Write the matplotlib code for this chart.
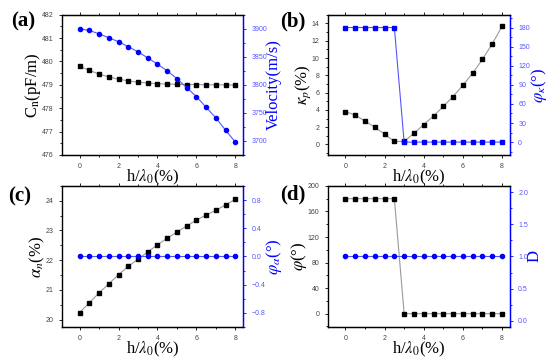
import matplotlib
matplotlib.use('Agg')
import matplotlib.pyplot as plt
from matplotlib.ticker import AutoMinorLocator, MultipleLocator

plt.rcParams['font.family'] = 'Liberation Sans'
plt.rcParams['mathtext.fontset'] = 'stix'

# x: h/lambda0 (%)
h = [0, 0.5, 1, 1.5, 2, 2.5, 3, 3.5, 4, 4.5, 5, 5.5, 6, 6.5, 7, 7.5, 8]

# (a)
cn = [479.79, 479.62, 479.46, 479.34, 479.24, 479.17, 479.11, 479.08, 479.05,
      479.03, 479.02, 479.01, 479.01, 479.0, 479.0, 479.0, 478.99]
velocity = [3900, 3897, 3891, 3884, 3877, 3868, 3859, 3848, 3837, 3825, 3811,
            3795, 3779, 3760, 3741, 3719, 3698]
# (b)
kappa_p = [3.8, 3.4, 2.7, 2.0, 1.2, 0.35, 0.35, 1.3, 2.3, 3.3, 4.4, 5.55, 6.85,
           8.25, 9.85, 11.65, 13.65]
phi_kappa = [180, 180, 180, 180, 180, 180, 0, 0, 0, 0, 0, 0, 0, 0, 0, 0, 0]
# (c)
alpha_n = [20.24, 20.57, 20.90, 21.21, 21.51, 21.80, 22.03, 22.28, 22.52, 22.74,
           22.95, 23.15, 23.35, 23.52, 23.68, 23.86, 24.05]
phi_alpha = [0] * 17
# (d)
phi = [180, 180, 180, 180, 180, 180, 0, 0, 0, 0, 0, 0, 0, 0, 0, 0, 0]
D = [1] * 17

BLUE = '#0000ff'
LBLUE = '#5555ff'
GRAY = '#9a9a9a'
SERIF = 'Liberation Serif'

fig = plt.figure(figsize=(5.5, 3.61), dpi=100)

boxes = [[0.113, 0.571, 0.329, 0.388],
         [0.596, 0.571, 0.331, 0.388],
         [0.113, 0.094, 0.329, 0.391],
         [0.596, 0.094, 0.331, 0.391]]


def make_panel(box, left, right, lm, rm, ylim, rlim, lstep, rstep,
               ylab, rlab, tag, tagpos):
    ax = fig.add_axes(box)
    ax2 = ax.twinx()
    ax.plot(h, left, color=GRAY, lw=0.8, marker=lm, ms=3, mfc='k', mec='k', zorder=3)
    ax2.plot(h, right, color=LBLUE, lw=0.8, marker=rm, ms=3, mfc=BLUE, mec=BLUE)
    ax.set_xlim(-0.9, 8.4)
    ax.set_ylim(*ylim)
    ax2.set_ylim(*rlim)
    ax.xaxis.set_major_locator(MultipleLocator(2))
    ax.xaxis.set_minor_locator(AutoMinorLocator(2))
    ax.yaxis.set_major_locator(MultipleLocator(lstep))
    ax.yaxis.set_minor_locator(AutoMinorLocator(2))
    ax2.yaxis.set_major_locator(MultipleLocator(rstep))
    ax2.yaxis.set_minor_locator(AutoMinorLocator(2))
    ax.tick_params(which='both', direction='out', top=True, labelsize=5,
                   labelcolor='#444444', width=0.6)
    ax.tick_params(which='major', length=2.5)
    ax.tick_params(which='minor', length=1.5)
    ax2.tick_params(which='both', direction='out', colors=BLUE, labelsize=5, width=0.6)
    ax2.tick_params(which='major', length=2.5)
    ax2.tick_params(which='minor', length=1.5)
    ax2.tick_params(labelcolor='#5555ff')
    for s in ['left', 'top', 'bottom']:
        ax.spines[s].set_linewidth(1.0)
    ax2.spines['right'].set_color(BLUE)
    ax2.spines['right'].set_linewidth(1.0)
    ax2.spines['left'].set_visible(False)
    ax.set_xlabel(r'h/$\lambda_0$(%)', family=SERIF, fontsize=12, labelpad=-2)
    ax.set_ylabel(ylab, family=SERIF, fontsize=12, labelpad=-1)
    ax2.set_ylabel(rlab, family=SERIF, fontsize=12, color=BLUE, rotation=90,
                   labelpad=-1)
    fig.text(tagpos[0], tagpos[1], tag, family=SERIF, fontsize=15,
             fontweight='bold', ha='left', va='center')
    return ax, ax2


make_panel(boxes[0], cn, velocity, 's', 'o', (476, 482), (3675, 3925), 1, 50,
           r'C$_\mathrm{n}$(pF/m)', 'Velocity(m/s)', '(a)', (0.02, 0.94))
make_panel(boxes[1], kappa_p, phi_kappa, 's', 's', (-1.2, 15), (-20, 200), 2, 30,
           r'$\kappa_p$(%)', r'$\varphi_\kappa$(°)', '(b)', (0.51, 0.94))
make_panel(boxes[2], alpha_n, phi_alpha, 's', 'o', (19.75, 24.5), (-1.0, 1.0), 1, 0.4,
           r'$\alpha_n$(%)', r'$\varphi_\alpha$(°)', '(c)', (0.015, 0.455))
make_panel(boxes[3], phi, D, 's', 'o', (-21, 200), (-0.1, 2.1), 40, 0.5,
           r'$\varphi$(°)', 'D', '(d)', (0.51, 0.46))

fig.savefig('out.png', dpi=100)
